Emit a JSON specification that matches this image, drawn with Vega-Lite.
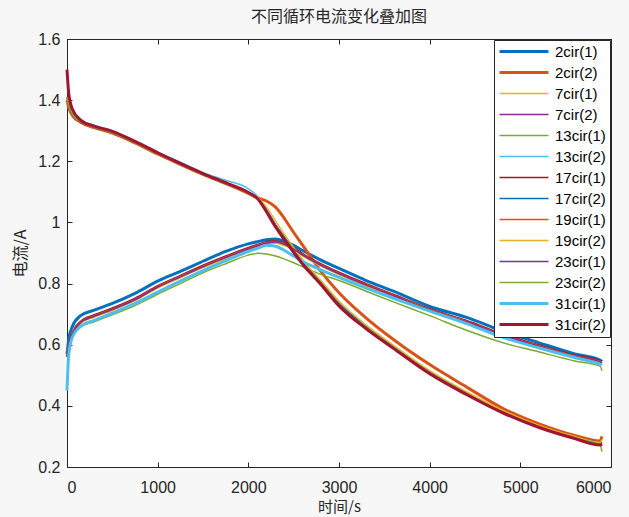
{
"$schema": "https://vega.github.io/schema/vega-lite/v6.json",
"width": 544, "height": 428,
"autosize": {"type": "none"},
"padding": {"left": 67, "top": 39, "right": 18, "bottom": 50},
"background": "#f7f7f7",
"view": {"fill": "white", "stroke": "#262626", "strokeWidth": 1},
"title": {"text": "不同循环电流变化叠加图", "font": "Noto Sans CJK SC", "fontSize": 16, "fontWeight": "normal", "color": "#262626", "offset": 6},
"config": {
  "axis": {"labelFont": "Liberation Sans", "labelFontSize": 16, "labelColor": "#262626", "titleFont": "Noto Sans CJK SC", "titleFontSize": 16, "titleFontWeight": "normal", "titleColor": "#262626", "domainColor": "#262626", "tickColor": "#262626", "grid": false},
  "legend": {"labelFont": "Liberation Sans", "labelFontSize": 15, "labelColor": "#000000", "labelAlign": "left"}
},
"datasets": {
"d": [
{"s":"2cir(1)","t":0,"v":0.57},{"s":"2cir(1)","t":20,"v":0.62},{"s":"2cir(1)","t":60,"v":0.66},{"s":"2cir(1)","t":150,"v":0.695},{"s":"2cir(1)","t":300,"v":0.713},{"s":"2cir(1)","t":500,"v":0.735},{"s":"2cir(1)","t":750,"v":0.768},{"s":"2cir(1)","t":1000,"v":0.808},{"s":"2cir(1)","t":1250,"v":0.84},{"s":"2cir(1)","t":1500,"v":0.873},{"s":"2cir(1)","t":1750,"v":0.905},{"s":"2cir(1)","t":2000,"v":0.93},{"s":"2cir(1)","t":2100,"v":0.937},{"s":"2cir(1)","t":2200,"v":0.943},{"s":"2cir(1)","t":2300,"v":0.946},{"s":"2cir(1)","t":2400,"v":0.938},{"s":"2cir(1)","t":2500,"v":0.925},{"s":"2cir(1)","t":2600,"v":0.908},{"s":"2cir(1)","t":2800,"v":0.877},{"s":"2cir(1)","t":3000,"v":0.85},{"s":"2cir(1)","t":3300,"v":0.81},{"s":"2cir(1)","t":3600,"v":0.775},{"s":"2cir(1)","t":4000,"v":0.725},{"s":"2cir(1)","t":4400,"v":0.69},{"s":"2cir(1)","t":4800,"v":0.645},{"s":"2cir(1)","t":5200,"v":0.607},{"s":"2cir(1)","t":5600,"v":0.57},{"s":"2cir(1)","t":5880,"v":0.55},{"s":"2cir(1)","t":5900,"v":0.545},
{"s":"2cir(2)","t":0,"v":1.40},{"s":"2cir(2)","t":20,"v":1.375},{"s":"2cir(2)","t":60,"v":1.35},{"s":"2cir(2)","t":150,"v":1.328},{"s":"2cir(2)","t":300,"v":1.31},{"s":"2cir(2)","t":500,"v":1.292},{"s":"2cir(2)","t":750,"v":1.26},{"s":"2cir(2)","t":1000,"v":1.224},{"s":"2cir(2)","t":1250,"v":1.19},{"s":"2cir(2)","t":1500,"v":1.157},{"s":"2cir(2)","t":1750,"v":1.127},{"s":"2cir(2)","t":2000,"v":1.095},{"s":"2cir(2)","t":2100,"v":1.08},{"s":"2cir(2)","t":2200,"v":1.07},{"s":"2cir(2)","t":2300,"v":1.05},{"s":"2cir(2)","t":2400,"v":1.012},{"s":"2cir(2)","t":2500,"v":0.967},{"s":"2cir(2)","t":2600,"v":0.925},{"s":"2cir(2)","t":2800,"v":0.84},{"s":"2cir(2)","t":3000,"v":0.77},{"s":"2cir(2)","t":3300,"v":0.687},{"s":"2cir(2)","t":3600,"v":0.617},{"s":"2cir(2)","t":4000,"v":0.535},{"s":"2cir(2)","t":4400,"v":0.463},{"s":"2cir(2)","t":4800,"v":0.393},{"s":"2cir(2)","t":5200,"v":0.342},{"s":"2cir(2)","t":5600,"v":0.303},{"s":"2cir(2)","t":5880,"v":0.285},{"s":"2cir(2)","t":5900,"v":0.30},
{"s":"7cir(1)","t":0,"v":0.56},{"s":"7cir(1)","t":20,"v":0.595},{"s":"7cir(1)","t":60,"v":0.632},{"s":"7cir(1)","t":150,"v":0.668},{"s":"7cir(1)","t":300,"v":0.69},{"s":"7cir(1)","t":500,"v":0.712},{"s":"7cir(1)","t":750,"v":0.744},{"s":"7cir(1)","t":1000,"v":0.785},{"s":"7cir(1)","t":1250,"v":0.819},{"s":"7cir(1)","t":1500,"v":0.852},{"s":"7cir(1)","t":1750,"v":0.882},{"s":"7cir(1)","t":2000,"v":0.91},{"s":"7cir(1)","t":2100,"v":0.92},{"s":"7cir(1)","t":2200,"v":0.929},{"s":"7cir(1)","t":2300,"v":0.932},{"s":"7cir(1)","t":2400,"v":0.924},{"s":"7cir(1)","t":2500,"v":0.91},{"s":"7cir(1)","t":2600,"v":0.89},{"s":"7cir(1)","t":2800,"v":0.857},{"s":"7cir(1)","t":3000,"v":0.829},{"s":"7cir(1)","t":3300,"v":0.792},{"s":"7cir(1)","t":3600,"v":0.757},{"s":"7cir(1)","t":4000,"v":0.71},{"s":"7cir(1)","t":4400,"v":0.672},{"s":"7cir(1)","t":4800,"v":0.628},{"s":"7cir(1)","t":5200,"v":0.592},{"s":"7cir(1)","t":5600,"v":0.558},{"s":"7cir(1)","t":5880,"v":0.54},{"s":"7cir(1)","t":5900,"v":0.538},
{"s":"7cir(2)","t":0,"v":1.41},{"s":"7cir(2)","t":20,"v":1.385},{"s":"7cir(2)","t":60,"v":1.355},{"s":"7cir(2)","t":150,"v":1.33},{"s":"7cir(2)","t":300,"v":1.313},{"s":"7cir(2)","t":500,"v":1.295},{"s":"7cir(2)","t":750,"v":1.262},{"s":"7cir(2)","t":1000,"v":1.226},{"s":"7cir(2)","t":1250,"v":1.192},{"s":"7cir(2)","t":1500,"v":1.158},{"s":"7cir(2)","t":1750,"v":1.128},{"s":"7cir(2)","t":2000,"v":1.097},{"s":"7cir(2)","t":2100,"v":1.08},{"s":"7cir(2)","t":2200,"v":1.04},{"s":"7cir(2)","t":2300,"v":0.99},{"s":"7cir(2)","t":2400,"v":0.948},{"s":"7cir(2)","t":2500,"v":0.907},{"s":"7cir(2)","t":2600,"v":0.868},{"s":"7cir(2)","t":2800,"v":0.802},{"s":"7cir(2)","t":3000,"v":0.733},{"s":"7cir(2)","t":3300,"v":0.657},{"s":"7cir(2)","t":3600,"v":0.592},{"s":"7cir(2)","t":4000,"v":0.51},{"s":"7cir(2)","t":4400,"v":0.442},{"s":"7cir(2)","t":4800,"v":0.382},{"s":"7cir(2)","t":5200,"v":0.333},{"s":"7cir(2)","t":5600,"v":0.296},{"s":"7cir(2)","t":5880,"v":0.276},{"s":"7cir(2)","t":5900,"v":0.28},
{"s":"13cir(1)","t":0,"v":0.58},{"s":"13cir(1)","t":20,"v":0.6},{"s":"13cir(1)","t":60,"v":0.628},{"s":"13cir(1)","t":150,"v":0.658},{"s":"13cir(1)","t":300,"v":0.675},{"s":"13cir(1)","t":500,"v":0.698},{"s":"13cir(1)","t":750,"v":0.728},{"s":"13cir(1)","t":1000,"v":0.765},{"s":"13cir(1)","t":1250,"v":0.8},{"s":"13cir(1)","t":1500,"v":0.835},{"s":"13cir(1)","t":1750,"v":0.865},{"s":"13cir(1)","t":2000,"v":0.893},{"s":"13cir(1)","t":2100,"v":0.899},{"s":"13cir(1)","t":2200,"v":0.897},{"s":"13cir(1)","t":2300,"v":0.89},{"s":"13cir(1)","t":2400,"v":0.88},{"s":"13cir(1)","t":2500,"v":0.868},{"s":"13cir(1)","t":2600,"v":0.855},{"s":"13cir(1)","t":2800,"v":0.83},{"s":"13cir(1)","t":3000,"v":0.81},{"s":"13cir(1)","t":3300,"v":0.775},{"s":"13cir(1)","t":3600,"v":0.74},{"s":"13cir(1)","t":4000,"v":0.695},{"s":"13cir(1)","t":4400,"v":0.648},{"s":"13cir(1)","t":4800,"v":0.607},{"s":"13cir(1)","t":5200,"v":0.577},{"s":"13cir(1)","t":5600,"v":0.547},{"s":"13cir(1)","t":5880,"v":0.53},{"s":"13cir(1)","t":5900,"v":0.515},
{"s":"13cir(2)","t":0,"v":1.41},{"s":"13cir(2)","t":20,"v":1.385},{"s":"13cir(2)","t":60,"v":1.358},{"s":"13cir(2)","t":150,"v":1.335},{"s":"13cir(2)","t":300,"v":1.318},{"s":"13cir(2)","t":500,"v":1.3},{"s":"13cir(2)","t":750,"v":1.267},{"s":"13cir(2)","t":1000,"v":1.231},{"s":"13cir(2)","t":1250,"v":1.197},{"s":"13cir(2)","t":1500,"v":1.163},{"s":"13cir(2)","t":1750,"v":1.138},{"s":"13cir(2)","t":2000,"v":1.11},{"s":"13cir(2)","t":2100,"v":1.085},{"s":"13cir(2)","t":2200,"v":1.035},{"s":"13cir(2)","t":2300,"v":0.988},{"s":"13cir(2)","t":2400,"v":0.946},{"s":"13cir(2)","t":2500,"v":0.905},{"s":"13cir(2)","t":2600,"v":0.866},{"s":"13cir(2)","t":2800,"v":0.8},{"s":"13cir(2)","t":3000,"v":0.73},{"s":"13cir(2)","t":3300,"v":0.655},{"s":"13cir(2)","t":3600,"v":0.59},{"s":"13cir(2)","t":4000,"v":0.508},{"s":"13cir(2)","t":4400,"v":0.44},{"s":"13cir(2)","t":4800,"v":0.38},{"s":"13cir(2)","t":5200,"v":0.332},{"s":"13cir(2)","t":5600,"v":0.295},{"s":"13cir(2)","t":5880,"v":0.274},{"s":"13cir(2)","t":5900,"v":0.27},
{"s":"17cir(1)","t":0,"v":0.56},{"s":"17cir(1)","t":20,"v":0.6},{"s":"17cir(1)","t":60,"v":0.64},{"s":"17cir(1)","t":150,"v":0.677},{"s":"17cir(1)","t":300,"v":0.698},{"s":"17cir(1)","t":500,"v":0.72},{"s":"17cir(1)","t":750,"v":0.752},{"s":"17cir(1)","t":1000,"v":0.793},{"s":"17cir(1)","t":1250,"v":0.827},{"s":"17cir(1)","t":1500,"v":0.86},{"s":"17cir(1)","t":1750,"v":0.89},{"s":"17cir(1)","t":2000,"v":0.918},{"s":"17cir(1)","t":2100,"v":0.928},{"s":"17cir(1)","t":2200,"v":0.937},{"s":"17cir(1)","t":2300,"v":0.94},{"s":"17cir(1)","t":2400,"v":0.932},{"s":"17cir(1)","t":2500,"v":0.918},{"s":"17cir(1)","t":2600,"v":0.898},{"s":"17cir(1)","t":2800,"v":0.865},{"s":"17cir(1)","t":3000,"v":0.837},{"s":"17cir(1)","t":3300,"v":0.8},{"s":"17cir(1)","t":3600,"v":0.765},{"s":"17cir(1)","t":4000,"v":0.718},{"s":"17cir(1)","t":4400,"v":0.68},{"s":"17cir(1)","t":4800,"v":0.636},{"s":"17cir(1)","t":5200,"v":0.6},{"s":"17cir(1)","t":5600,"v":0.566},{"s":"17cir(1)","t":5880,"v":0.548},{"s":"17cir(1)","t":5900,"v":0.545},
{"s":"17cir(2)","t":0,"v":1.41},{"s":"17cir(2)","t":20,"v":1.384},{"s":"17cir(2)","t":60,"v":1.354},{"s":"17cir(2)","t":150,"v":1.33},{"s":"17cir(2)","t":300,"v":1.312},{"s":"17cir(2)","t":500,"v":1.294},{"s":"17cir(2)","t":750,"v":1.262},{"s":"17cir(2)","t":1000,"v":1.226},{"s":"17cir(2)","t":1250,"v":1.191},{"s":"17cir(2)","t":1500,"v":1.158},{"s":"17cir(2)","t":1750,"v":1.128},{"s":"17cir(2)","t":2000,"v":1.096},{"s":"17cir(2)","t":2100,"v":1.08},{"s":"17cir(2)","t":2200,"v":1.042},{"s":"17cir(2)","t":2300,"v":0.993},{"s":"17cir(2)","t":2400,"v":0.952},{"s":"17cir(2)","t":2500,"v":0.91},{"s":"17cir(2)","t":2600,"v":0.871},{"s":"17cir(2)","t":2800,"v":0.805},{"s":"17cir(2)","t":3000,"v":0.736},{"s":"17cir(2)","t":3300,"v":0.66},{"s":"17cir(2)","t":3600,"v":0.594},{"s":"17cir(2)","t":4000,"v":0.512},{"s":"17cir(2)","t":4400,"v":0.444},{"s":"17cir(2)","t":4800,"v":0.383},{"s":"17cir(2)","t":5200,"v":0.334},{"s":"17cir(2)","t":5600,"v":0.297},{"s":"17cir(2)","t":5880,"v":0.277},{"s":"17cir(2)","t":5900,"v":0.28},
{"s":"19cir(1)","t":0,"v":0.565},{"s":"19cir(1)","t":20,"v":0.602},{"s":"19cir(1)","t":60,"v":0.638},{"s":"19cir(1)","t":150,"v":0.674},{"s":"19cir(1)","t":300,"v":0.695},{"s":"19cir(1)","t":500,"v":0.717},{"s":"19cir(1)","t":750,"v":0.749},{"s":"19cir(1)","t":1000,"v":0.79},{"s":"19cir(1)","t":1250,"v":0.824},{"s":"19cir(1)","t":1500,"v":0.857},{"s":"19cir(1)","t":1750,"v":0.887},{"s":"19cir(1)","t":2000,"v":0.915},{"s":"19cir(1)","t":2100,"v":0.925},{"s":"19cir(1)","t":2200,"v":0.934},{"s":"19cir(1)","t":2300,"v":0.938},{"s":"19cir(1)","t":2400,"v":0.93},{"s":"19cir(1)","t":2500,"v":0.915},{"s":"19cir(1)","t":2600,"v":0.895},{"s":"19cir(1)","t":2800,"v":0.862},{"s":"19cir(1)","t":3000,"v":0.834},{"s":"19cir(1)","t":3300,"v":0.797},{"s":"19cir(1)","t":3600,"v":0.762},{"s":"19cir(1)","t":4000,"v":0.715},{"s":"19cir(1)","t":4400,"v":0.677},{"s":"19cir(1)","t":4800,"v":0.633},{"s":"19cir(1)","t":5200,"v":0.597},{"s":"19cir(1)","t":5600,"v":0.563},{"s":"19cir(1)","t":5880,"v":0.545},{"s":"19cir(1)","t":5900,"v":0.54},
{"s":"19cir(2)","t":0,"v":1.41},{"s":"19cir(2)","t":20,"v":1.386},{"s":"19cir(2)","t":60,"v":1.356},{"s":"19cir(2)","t":150,"v":1.331},{"s":"19cir(2)","t":300,"v":1.313},{"s":"19cir(2)","t":500,"v":1.295},{"s":"19cir(2)","t":750,"v":1.262},{"s":"19cir(2)","t":1000,"v":1.226},{"s":"19cir(2)","t":1250,"v":1.192},{"s":"19cir(2)","t":1500,"v":1.158},{"s":"19cir(2)","t":1750,"v":1.128},{"s":"19cir(2)","t":2000,"v":1.097},{"s":"19cir(2)","t":2100,"v":1.082},{"s":"19cir(2)","t":2200,"v":1.05},{"s":"19cir(2)","t":2300,"v":1.005},{"s":"19cir(2)","t":2400,"v":0.96},{"s":"19cir(2)","t":2500,"v":0.918},{"s":"19cir(2)","t":2600,"v":0.878},{"s":"19cir(2)","t":2800,"v":0.81},{"s":"19cir(2)","t":3000,"v":0.742},{"s":"19cir(2)","t":3300,"v":0.664},{"s":"19cir(2)","t":3600,"v":0.598},{"s":"19cir(2)","t":4000,"v":0.515},{"s":"19cir(2)","t":4400,"v":0.447},{"s":"19cir(2)","t":4800,"v":0.386},{"s":"19cir(2)","t":5200,"v":0.337},{"s":"19cir(2)","t":5600,"v":0.3},{"s":"19cir(2)","t":5880,"v":0.28},{"s":"19cir(2)","t":5900,"v":0.29},
{"s":"23cir(1)","t":0,"v":0.56},{"s":"23cir(1)","t":20,"v":0.598},{"s":"23cir(1)","t":60,"v":0.635},{"s":"23cir(1)","t":150,"v":0.672},{"s":"23cir(1)","t":300,"v":0.693},{"s":"23cir(1)","t":500,"v":0.715},{"s":"23cir(1)","t":750,"v":0.747},{"s":"23cir(1)","t":1000,"v":0.788},{"s":"23cir(1)","t":1250,"v":0.822},{"s":"23cir(1)","t":1500,"v":0.855},{"s":"23cir(1)","t":1750,"v":0.885},{"s":"23cir(1)","t":2000,"v":0.913},{"s":"23cir(1)","t":2100,"v":0.923},{"s":"23cir(1)","t":2200,"v":0.932},{"s":"23cir(1)","t":2300,"v":0.936},{"s":"23cir(1)","t":2400,"v":0.928},{"s":"23cir(1)","t":2500,"v":0.913},{"s":"23cir(1)","t":2600,"v":0.893},{"s":"23cir(1)","t":2800,"v":0.86},{"s":"23cir(1)","t":3000,"v":0.832},{"s":"23cir(1)","t":3300,"v":0.795},{"s":"23cir(1)","t":3600,"v":0.76},{"s":"23cir(1)","t":4000,"v":0.713},{"s":"23cir(1)","t":4400,"v":0.675},{"s":"23cir(1)","t":4800,"v":0.631},{"s":"23cir(1)","t":5200,"v":0.595},{"s":"23cir(1)","t":5600,"v":0.561},{"s":"23cir(1)","t":5880,"v":0.543},{"s":"23cir(1)","t":5900,"v":0.54},
{"s":"23cir(2)","t":0,"v":1.41},{"s":"23cir(2)","t":20,"v":1.385},{"s":"23cir(2)","t":60,"v":1.355},{"s":"23cir(2)","t":150,"v":1.33},{"s":"23cir(2)","t":300,"v":1.312},{"s":"23cir(2)","t":500,"v":1.294},{"s":"23cir(2)","t":750,"v":1.261},{"s":"23cir(2)","t":1000,"v":1.225},{"s":"23cir(2)","t":1250,"v":1.191},{"s":"23cir(2)","t":1500,"v":1.157},{"s":"23cir(2)","t":1750,"v":1.127},{"s":"23cir(2)","t":2000,"v":1.096},{"s":"23cir(2)","t":2100,"v":1.079},{"s":"23cir(2)","t":2200,"v":1.038},{"s":"23cir(2)","t":2300,"v":0.989},{"s":"23cir(2)","t":2400,"v":0.947},{"s":"23cir(2)","t":2500,"v":0.906},{"s":"23cir(2)","t":2600,"v":0.867},{"s":"23cir(2)","t":2800,"v":0.801},{"s":"23cir(2)","t":3000,"v":0.731},{"s":"23cir(2)","t":3300,"v":0.655},{"s":"23cir(2)","t":3600,"v":0.591},{"s":"23cir(2)","t":4000,"v":0.508},{"s":"23cir(2)","t":4400,"v":0.44},{"s":"23cir(2)","t":4800,"v":0.38},{"s":"23cir(2)","t":5200,"v":0.331},{"s":"23cir(2)","t":5600,"v":0.294},{"s":"23cir(2)","t":5880,"v":0.273},{"s":"23cir(2)","t":5900,"v":0.25},
{"s":"31cir(1)","t":0,"v":0.45},{"s":"31cir(1)","t":20,"v":0.57},{"s":"31cir(1)","t":60,"v":0.625},{"s":"31cir(1)","t":150,"v":0.66},{"s":"31cir(1)","t":300,"v":0.68},{"s":"31cir(1)","t":500,"v":0.703},{"s":"31cir(1)","t":750,"v":0.735},{"s":"31cir(1)","t":1000,"v":0.772},{"s":"31cir(1)","t":1250,"v":0.808},{"s":"31cir(1)","t":1500,"v":0.842},{"s":"31cir(1)","t":1750,"v":0.875},{"s":"31cir(1)","t":2000,"v":0.905},{"s":"31cir(1)","t":2100,"v":0.915},{"s":"31cir(1)","t":2200,"v":0.925},{"s":"31cir(1)","t":2300,"v":0.922},{"s":"31cir(1)","t":2400,"v":0.908},{"s":"31cir(1)","t":2500,"v":0.89},{"s":"31cir(1)","t":2600,"v":0.872},{"s":"31cir(1)","t":2800,"v":0.845},{"s":"31cir(1)","t":3000,"v":0.82},{"s":"31cir(1)","t":3300,"v":0.785},{"s":"31cir(1)","t":3600,"v":0.752},{"s":"31cir(1)","t":4000,"v":0.71},{"s":"31cir(1)","t":4400,"v":0.67},{"s":"31cir(1)","t":4800,"v":0.625},{"s":"31cir(1)","t":5200,"v":0.59},{"s":"31cir(1)","t":5600,"v":0.558},{"s":"31cir(1)","t":5880,"v":0.537},{"s":"31cir(1)","t":5900,"v":0.535},
{"s":"31cir(2)","t":0,"v":1.50},{"s":"31cir(2)","t":20,"v":1.42},{"s":"31cir(2)","t":60,"v":1.37},{"s":"31cir(2)","t":150,"v":1.335},{"s":"31cir(2)","t":300,"v":1.315},{"s":"31cir(2)","t":500,"v":1.298},{"s":"31cir(2)","t":750,"v":1.265},{"s":"31cir(2)","t":1000,"v":1.228},{"s":"31cir(2)","t":1250,"v":1.193},{"s":"31cir(2)","t":1500,"v":1.16},{"s":"31cir(2)","t":1750,"v":1.13},{"s":"31cir(2)","t":2000,"v":1.098},{"s":"31cir(2)","t":2100,"v":1.078},{"s":"31cir(2)","t":2200,"v":1.035},{"s":"31cir(2)","t":2300,"v":0.985},{"s":"31cir(2)","t":2400,"v":0.943},{"s":"31cir(2)","t":2500,"v":0.902},{"s":"31cir(2)","t":2600,"v":0.863},{"s":"31cir(2)","t":2800,"v":0.797},{"s":"31cir(2)","t":3000,"v":0.727},{"s":"31cir(2)","t":3300,"v":0.652},{"s":"31cir(2)","t":3600,"v":0.588},{"s":"31cir(2)","t":4000,"v":0.505},{"s":"31cir(2)","t":4400,"v":0.438},{"s":"31cir(2)","t":4800,"v":0.378},{"s":"31cir(2)","t":5200,"v":0.33},{"s":"31cir(2)","t":5600,"v":0.293},{"s":"31cir(2)","t":5880,"v":0.272},{"s":"31cir(2)","t":5900,"v":0.275}
]
},
"data": {"name": "d"},
"layer": [
  {
    "mark": {"type": "line", "interpolate": "monotone", "strokeCap": "butt"},
    "encoding": {
      "x": {"field": "t", "type": "quantitative", "scale": {"domain": [0, 6000], "nice": false, "zero": false},
            "axis": {"title": "时间/s", "titleFontSize": 15, "values": [0,1000,2000,3000,4000,5000,6000], "format": "d", "tickSize": -5, "labelPadding": 17, "titlePadding": 4}},
      "y": {"field": "v", "type": "quantitative", "scale": {"domain": [0.2, 1.6], "nice": false, "zero": false},
            "axis": {"title": "电流/A", "values": [0.2,0.4,0.6,0.8,1.0,1.2,1.4,1.6], "format": ".1~f", "tickSize": -5, "labelPadding": 12, "titlePadding": 9}},
      "color": {"field": "s", "type": "nominal",
        "scale": {"domain": ["2cir(1)","2cir(2)","7cir(1)","7cir(2)","13cir(1)","13cir(2)","17cir(1)","17cir(2)","19cir(1)","19cir(2)","23cir(1)","23cir(2)","31cir(1)","31cir(2)"],
                  "range": ["#0072BD","#D95319","#EDB120","#7E2F8E","#77AC30","#4DBEEE","#A2142F","#0072BD","#D95319","#EDB120","#7E2F8E","#77AC30","#4DBEEE","#A2142F"]},
        "legend": {"title": null, "orient": "top-right", "offset": 1, "symbolType": "stroke", "symbolSize": 2400, "labelOffset": 5, "labelAlign": "left", "clipHeight": 15, "rowPadding": 5, "padding": 4, "strokeColor": "#262626", "fillColor": "white", "labelFontSize": 15,
          "encode": {"symbols": {"update": {"strokeWidth": {"signal": "indexof(['2cir(1)','2cir(2)','31cir(1)','31cir(2)'], datum.value) >= 0 ? 3 : 1.5"}}},
                     "labels": {"update": {"align": {"value": "left"}}}}}},
      "strokeWidth": {"field": "s", "type": "nominal",
        "scale": {"type": "ordinal", "domain": ["2cir(1)","2cir(2)","7cir(1)","7cir(2)","13cir(1)","13cir(2)","17cir(1)","17cir(2)","19cir(1)","19cir(2)","23cir(1)","23cir(2)","31cir(1)","31cir(2)"],
                  "range": [3,3,1.5,1.5,1.5,1.5,1.5,1.5,1.5,1.5,1.5,1.5,3,3]},
        "legend": null}
    }
  },
  {
    "mark": {"type": "line", "opacity": 0},
    "encoding": {
      "x": {"field": "t", "type": "quantitative", "scale": {"domain": [0, 6000], "nice": false, "zero": false},
            "axis": {"orient": "top", "title": null, "labels": false, "values": [0,1000,2000,3000,4000,5000,6000], "tickSize": -5}},
      "y": {"field": "v", "type": "quantitative", "scale": {"domain": [0.2, 1.6], "nice": false, "zero": false},
            "axis": {"orient": "right", "title": null, "labels": false, "values": [0.2,0.4,0.6,0.8,1.0,1.2,1.4,1.6], "tickSize": -5}},
      "detail": {"field": "s", "type": "nominal"}
    }
  }
],
"resolve": {"axis": {"x": "independent", "y": "independent"}}
}
